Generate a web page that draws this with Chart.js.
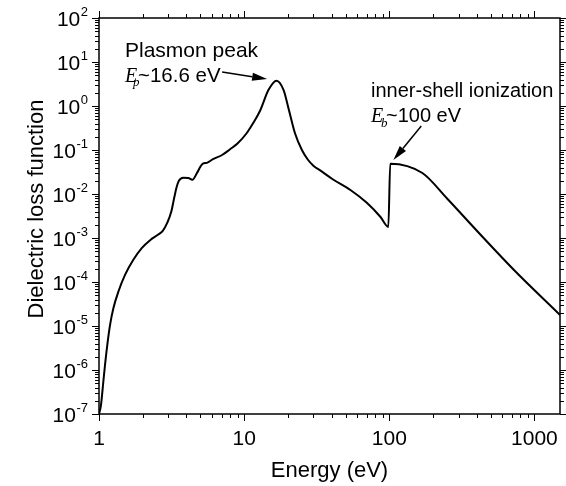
<!DOCTYPE html>
<html>
<head>
<meta charset="utf-8">
<script src="https://cdn.jsdelivr.net/npm/chart.js@4/dist/chart.umd.min.js"></script>
<style>
  html, body { margin: 0; padding: 0; background: #fff; }
</style>
</head>
<body>
<canvas id="loss-chart" width="566" height="486"></canvas>
<script>
// Energy (eV) and dielectric loss function
const energy = [1.0, 1.032, 1.071, 1.10, 1.148, 1.191, 1.255, 1.359, 1.511, 1.724,
    1.97, 2.25, 2.56, 2.75, 2.95, 3.15, 3.3, 3.42, 3.55, 3.81,
    4.13, 4.40, 4.72, 5.0, 5.2, 5.53, 6.1, 7.0, 8.0, 9.0,
    10.4, 11.6, 12.9, 14.7, 16.7, 18.7, 20.2, 22.4, 25.0, 27.5,
    30.0, 34.0, 41.0, 54.0, 70.0, 87.0, 98.5, 101.5, 169, 250,
    424, 720, 1500];
const loss = [1e-7, 1.6e-7, 5.4e-7, 1.3e-6, 4.4e-6, 1.05e-5, 2.5e-5, 6.0e-5, 1.45e-4, 3.2e-4,
    5.9e-4, 8.9e-4, 1.2e-3, 1.45e-3, 2.2e-3, 4.0e-3, 8.3e-3, 0.014, 0.020, 0.0235,
    0.023, 0.021, 0.0295, 0.042, 0.049, 0.051, 0.062, 0.076, 0.104, 0.14,
    0.24, 0.42, 0.79, 2.3, 3.76, 2.3, 0.89, 0.24, 0.10, 0.060,
    0.044, 0.033, 0.0214, 0.0123, 6.3e-3, 3.0e-3, 1.78e-3, 0.049, 0.030, 7.9e-3,
    1.2e-3, 1.9e-4, 1.78e-5];

const xTickValues = [1, 10, 100, 1000];
const xTickLabels = ['1', '10', '100', '1000'];
const yTickExponents = [-7, -6, -5, -4, -3, -2, -1, 0, 1, 2];

// arrows in data units: [fromE, fromL, toE, toL]
const plasmonArrow = [7.05, 5.9, 14.4, 4.1];
const edgeArrow = [166, 0.35, 106.7, 0.059];

const FONT = '"Liberation Sans", Arial, sans-serif';
const SERIF = '"Liberation Serif", "Times New Roman", serif';

function logTicks(min, max) {
    const out = [];
    for (let e = Math.floor(Math.log10(min)); e <= Math.ceil(Math.log10(max)); e++) {
        for (let k = 1; k <= 9; k++) {
            const v = k * Math.pow(10, e);
            if (v >= min * 0.999 && v <= max * 1.001) out.push({ v: v, major: k === 1 });
        }
    }
    return out;
}

function arrow(ctx, x1, y1, x2, y2) {
    const ang = Math.atan2(y2 - y1, x2 - x1);
    const hl = 15, hw = 4;
    const bx = x2 - hl * Math.cos(ang), by = y2 - hl * Math.sin(ang);
    ctx.beginPath();
    ctx.moveTo(x1, y1);
    ctx.lineTo(bx, by);
    ctx.stroke();
    ctx.beginPath();
    ctx.moveTo(x2, y2);
    ctx.lineTo(bx + hw * Math.sin(ang), by - hw * Math.cos(ang));
    ctx.lineTo(bx - hw * Math.sin(ang), by + hw * Math.cos(ang));
    ctx.closePath();
    ctx.fill();
}

const axesPlugin = {
    id: 'axesPlugin',
    afterDraw(chart) {
        const ctx = chart.ctx;
        const a = chart.chartArea;
        const xs = chart.scales.x, ys = chart.scales.y;
        ctx.save();
        ctx.strokeStyle = '#000';
        ctx.fillStyle = '#000';

        // frame
        ctx.lineWidth = 1.5;
        ctx.strokeRect(a.left, a.top, a.right - a.left, a.bottom - a.top);

        // tick marks, outward on all four sides
        ctx.lineWidth = 1;
        ctx.beginPath();
        logTicks(xs.min, xs.max).forEach(t => {
            const px = Math.round(xs.getPixelForValue(t.v)) + 0.5;
            const len = t.major ? 7 : 4;
            ctx.moveTo(px, a.bottom); ctx.lineTo(px, a.bottom + len);
            ctx.moveTo(px, a.top); ctx.lineTo(px, a.top - len);
        });
        logTicks(ys.min, ys.max).forEach(t => {
            const py = Math.round(ys.getPixelForValue(t.v)) + 0.5;
            const len = t.major ? 7 : 4;
            ctx.moveTo(a.left, py); ctx.lineTo(a.left - len, py);
            ctx.moveTo(a.right, py); ctx.lineTo(a.right + len, py);
        });
        ctx.stroke();

        // x tick labels
        ctx.font = '21px ' + FONT;
        ctx.textAlign = 'center';
        ctx.textBaseline = 'alphabetic';
        xTickValues.forEach((v, i) => {
            ctx.fillText(xTickLabels[i], xs.getPixelForValue(v), a.bottom + 31);
        });

        // y tick labels as 10 with superscript exponent
        yTickExponents.forEach(e => {
            const py = ys.getPixelForValue(Math.pow(10, e));
            ctx.font = '13px ' + FONT;
            const expText = String(e);
            const wExp = ctx.measureText(expText).width;
            ctx.textAlign = 'left';
            const right = a.left - 11;
            ctx.fillText(expText, right - wExp, py - 2);
            ctx.font = '21px ' + FONT;
            const wBase = ctx.measureText('10').width;
            ctx.fillText('10', right - wExp - wBase - 0.5, py + 7.5);
        });

        // axis titles
        ctx.font = '22px ' + FONT;
        ctx.textAlign = 'center';
        ctx.fillText('Energy (eV)', (a.left + a.right) / 2, a.bottom + 63);
        ctx.save();
        ctx.translate(43, (a.top + a.bottom) / 2 - 7);
        ctx.rotate(-Math.PI / 2);
        ctx.fillText('Dielectric loss function', 0, 0);
        ctx.restore();

        // annotations
        ctx.textAlign = 'left';
        ctx.font = '21px ' + FONT;
        ctx.fillText('Plasmon peak', 125, 57);
        ctx.font = 'italic 20px ' + SERIF;
        ctx.fillText('E', 125, 82);
        ctx.font = 'italic 13px ' + SERIF;
        ctx.fillText('p', 133, 86);
        ctx.font = '20.5px ' + FONT;
        ctx.fillText('~16.6 eV', 138, 82);

        ctx.font = '20px ' + FONT;
        ctx.fillText('inner-shell ionization', 371, 97);
        ctx.font = 'italic 20px ' + SERIF;
        ctx.fillText('E', 371, 122);
        ctx.font = 'italic 13px ' + SERIF;
        ctx.fillText('b', 381, 127);
        ctx.font = '20px ' + FONT;
        ctx.fillText('~100 eV', 386, 122);

        ctx.lineWidth = 1.5;
        [plasmonArrow, edgeArrow].forEach(ar => {
            arrow(ctx,
                xs.getPixelForValue(ar[0]), ys.getPixelForValue(ar[1]),
                xs.getPixelForValue(ar[2]), ys.getPixelForValue(ar[3]));
        });
        ctx.restore();
    }
};

const ctx = document.getElementById('loss-chart').getContext('2d');
const chart = new Chart(ctx, {
    type: 'scatter',
    data: {
        datasets: [{
            data: energy.map((e, i) => ({ x: e, y: loss[i] })),
            showLine: true,
            borderColor: '#000',
            borderWidth: 2,
            pointRadius: 0,
            cubicInterpolationMode: 'monotone'
        }]
    },
    options: {
        responsive: false,
        animation: false,
        devicePixelRatio: 1,
        layout: {
            padding: { left: 99, top: 18, right: 6, bottom: 72 }
        },
        scales: {
            x: { type: 'logarithmic', min: 1, max: 1500, display: false },
            y: { type: 'logarithmic', min: 1e-7, max: 100, display: false }
        },
        plugins: {
            legend: { display: false },
            tooltip: { enabled: false }
        }
    },
    plugins: [axesPlugin]
});
</script>
</body>
</html>
